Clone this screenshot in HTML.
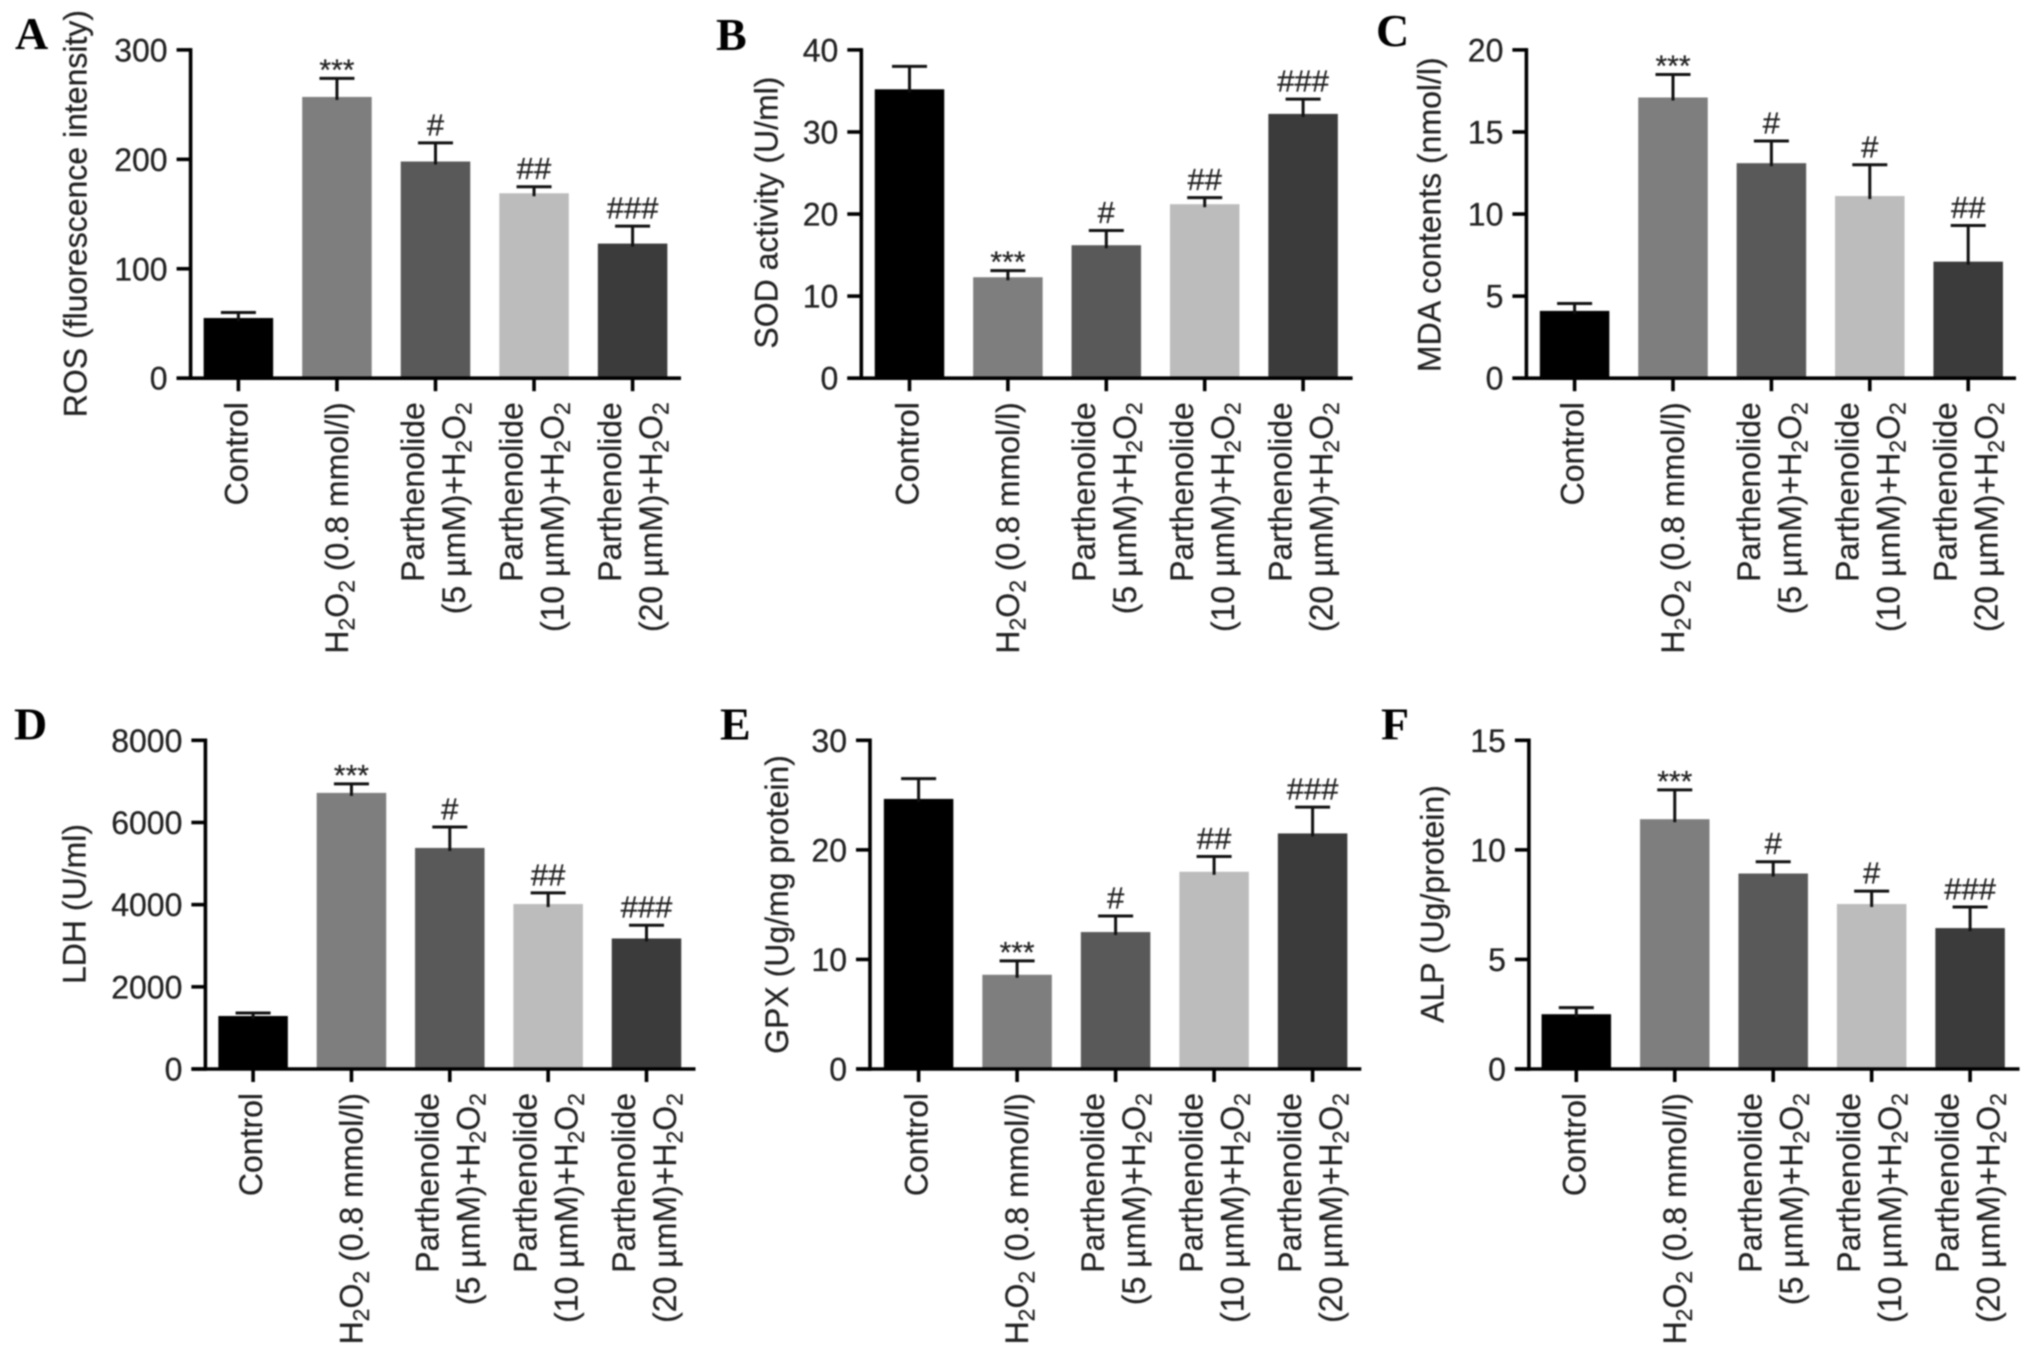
<!DOCTYPE html>
<html lang="en">
<head>
<meta charset="utf-8">
<title>Parthenolide oxidative stress bar charts</title>
<style>
html,body{margin:0;padding:0;background:#fff;}
body{width:2032px;height:1356px;overflow:hidden;}
svg{display:block;filter:blur(.7px);}
text{font-family:"Liberation Sans",Arial,sans-serif;fill:#222;stroke:#222;stroke-width:.25px;}
.letter{font-family:"Liberation Serif","Times New Roman",serif;font-weight:bold;font-size:46px;fill:#000;stroke:none;}
</style>
</head>
<body>
<svg id="figure" xmlns="http://www.w3.org/2000/svg" width="2032" height="1356" viewBox="0 0 2032 1356">
<rect x="0" y="0" width="2032" height="1356" fill="#fff"/>
</svg>
<script>
const categoryLines = [
  ["Control"],
  ["H2O2 (0.8 mmol/l)"],
  ["Parthenolide", "(5 µmM)+H2O2"],
  ["Parthenolide", "(10 µmM)+H2O2"],
  ["Parthenolide", "(20 µmM)+H2O2"]
];
const barColors = ["#000000", "#7e7e7e", "#595959", "#bcbcbc", "#3b3b3b"];

const rosValues = [55, 257, 198, 169, 123];
const rosErrorTops = [60, 274, 215, 175, 139];
const rosMarks = ["", "***", "#", "##", "###"];
const rosTicks = [0, 100, 200, 300];

const sodValues = [35.2, 12.3, 16.2, 21.2, 32.2];
const sodErrorTops = [38, 13.1, 18, 22, 34];
const sodMarks = ["", "***", "#", "##", "###"];
const sodTicks = [0, 10, 20, 30, 40];

const mdaValues = [4.1, 17.1, 13.1, 11.1, 7.1];
const mdaErrorTops = [4.55, 18.5, 14.45, 13, 9.3];
const mdaMarks = ["", "***", "#", "#", "##"];
const mdaTicks = [0, 5, 10, 15, 20];

const ldhValues = [1290, 6720, 5380, 4015, 3177];
const ldhErrorTops = [1363, 6940, 5890, 4287, 3500];
const ldhMarks = ["", "***", "#", "##", "###"];
const ldhTicks = [0, 2000, 4000, 6000, 8000];

const gpxValues = [24.65, 8.6, 12.5, 18, 21.5];
const gpxErrorTops = [26.5, 9.87, 13.96, 19.4, 23.9];
const gpxMarks = ["", "***", "#", "##", "###"];
const gpxTicks = [0, 10, 20, 30];

const alpValues = [2.5, 11.4, 8.92, 7.53, 6.43];
const alpErrorTops = [2.8, 12.74, 9.46, 8.12, 7.39];
const alpMarks = ["", "***", "#", "#", "###"];
const alpTicks = [0, 5, 10, 15];

const SVG_NS = "http://www.w3.org/2000/svg";
const figure = document.getElementById("figure");

function make(parent, tag, attrs) {
  const el = document.createElementNS(SVG_NS, tag);
  for (const key in attrs) el.setAttribute(key, attrs[key]);
  parent.appendChild(el);
  return el;
}

function fillFormula(textEl, str, size) {
  const parts = str.split(/(H2O2)/);
  let pendingRise = 0;
  parts.forEach(function (part) {
    if (part === "H2O2") {
      [["H", 0], ["2", 1], ["O", 0], ["2", 1]].forEach(function (seg) {
        const sp = document.createElementNS(SVG_NS, "tspan");
        sp.textContent = seg[0];
        const shift = size * 0.2;
        if (seg[1]) {
          sp.setAttribute("font-size", size * 0.72);
          sp.setAttribute("dy", shift);
          pendingRise = -shift;
        } else if (pendingRise) {
          sp.setAttribute("dy", pendingRise);
          pendingRise = 0;
        }
        textEl.appendChild(sp);
      });
    } else if (part) {
      const sp = document.createElementNS(SVG_NS, "tspan");
      sp.textContent = part;
      if (pendingRise) {
        sp.setAttribute("dy", pendingRise);
        pendingRise = 0;
      }
      textEl.appendChild(sp);
    }
  });
}

const FONT = 32;
const BAR_W = 69.5;
const CAP_W = 35;
const STROKE = 3.6;
const X_LABEL_TOP_OFFSET = 24;

function drawPanel(p) {
  const g = make(figure, "g", {});
  
  

  const yMax = p.ticks[p.ticks.length - 1];
  const yScale = function (v) { return p.zero - (v / yMax) * (p.zero - p.top); };
  const xScale = function (i) { return p.firstX + i * p.stepX; };

  const letter = make(g, "text", { x: p.letterX, y: p.letterY, "class": "letter" });
  letter.textContent = p.letter;
  
  

  p.values.forEach(function (v, i) {
    const cx = xScale(i);
    const yv = yScale(v);
    const bar = make(g, "rect", { x: cx - BAR_W / 2, y: yv, width: BAR_W, height: p.zero - yv, fill: barColors[i] });
    
    

    const ye = yScale(p.errorTops[i]);
    const stem = make(g, "line", { x1: cx, x2: cx, y1: ye, y2: yv + 3, stroke: "#111", "stroke-width": 3 });
    
    
    const cap = make(g, "line", { x1: cx - CAP_W / 2, x2: cx + CAP_W / 2, y1: ye, y2: ye, stroke: "#111", "stroke-width": 3 });
    
    

    const mark = p.marks[i];
    if (mark) {
      const isStar = mark.charAt(0) === "*";
      const sig = make(g, "text", {
        x: cx,
        y: isStar ? ye + 1.5 : ye - 7.5,
        "text-anchor": "middle",
        "font-size": isStar ? 30 : 31
      });
      sig.textContent = mark;
      
      
    }

    const lines = categoryLines[i];
    lines.forEach(function (line, li) {
      let off;
      if (lines.length === 2) off = li === 0 ? -11.5 : 29.5;
      else off = line.indexOf("H2O2") >= 0 ? 11 : 9;
      const t = make(g, "text", {
        transform: "translate(" + (cx + off) + "," + (p.zero + X_LABEL_TOP_OFFSET) + ") rotate(-90)",
        "text-anchor": "end",
        "font-size": FONT
      });
      fillFormula(t, line, FONT);
      
      
    });

    const xt = make(g, "line", { x1: cx, x2: cx, y1: p.zero, y2: p.zero + 13, stroke: "#000", "stroke-width": STROKE });
    
    
  });

  p.ticks.forEach(function (tv) {
    const y = yScale(tv);
    const yt = make(g, "line", { x1: p.axisX - 14, x2: p.axisX, y1: y, y2: y, stroke: "#000", "stroke-width": STROKE });
    
    
    const lab = make(g, "text", { x: p.axisX - 23, y: y + 11.5, "text-anchor": "end", "font-size": FONT });
    lab.textContent = String(tv);
    
    
  });

  const yAxis = make(g, "line", { x1: p.axisX, x2: p.axisX, y1: p.top - STROKE / 2, y2: p.zero + STROKE / 2, stroke: "#000", "stroke-width": STROKE });
  
  
  const xAxis = make(g, "line", { x1: p.axisX - 14, x2: p.xEnd, y1: p.zero, y2: p.zero, stroke: "#000", "stroke-width": STROKE });
  
  

  const title = make(g, "text", {
    transform: "translate(" + p.titleX + "," + p.titleY + ") rotate(-90)",
    "text-anchor": "middle",
    "font-size": FONT
  });
  title.textContent = p.title;
  
  
}

const TOP_ROW = { top: 49.9, zero: 378.2 };
const BOTTOM_ROW = { top: 740.3, zero: 1069 };

[
  Object.assign({ key: "ros", letter: "A", title: "ROS (fluorescence intensity)", values: rosValues, errorTops: rosErrorTops, marks: rosMarks, ticks: rosTicks,
    axisX: 190.6, xEnd: 681, firstX: 238.4, stepX: 98.55, titleX: 86.5, titleY: 213.6, letterX: 15, letterY: 49 }, TOP_ROW),
  Object.assign({ key: "sod", letter: "B", title: "SOD activity (U/ml)", values: sodValues, errorTops: sodErrorTops, marks: sodMarks, ticks: sodTicks,
    axisX: 861.3, xEnd: 1352.6, firstX: 909.5, stepX: 98.4, titleX: 777.5, titleY: 212.6, letterX: 716, letterY: 50 }, TOP_ROW),
  Object.assign({ key: "mda", letter: "C", title: "MDA contents (nmol/l)", values: mdaValues, errorTops: mdaErrorTops, marks: mdaMarks, ticks: mdaTicks,
    axisX: 1526.4, xEnd: 2016, firstX: 1574.6, stepX: 98.4, titleX: 1440.5, titleY: 214.7, letterX: 1376, letterY: 46 }, TOP_ROW),
  Object.assign({ key: "ldh", letter: "D", title: "LDH (U/ml)", values: ldhValues, errorTops: ldhErrorTops, marks: ldhMarks, ticks: ldhTicks,
    axisX: 205.4, xEnd: 695.5, firstX: 253.1, stepX: 98.35, titleX: 85.5, titleY: 904, letterX: 14, letterY: 739.5 }, BOTTOM_ROW),
  Object.assign({ key: "gpx", letter: "E", title: "GPX (Ug/mg protein)", values: gpxValues, errorTops: gpxErrorTops, marks: gpxMarks, ticks: gpxTicks,
    axisX: 870, xEnd: 1361.3, firstX: 918.6, stepX: 98.5, titleX: 788, titleY: 904.5, letterX: 720, letterY: 739.5 }, BOTTOM_ROW),
  Object.assign({ key: "alp", letter: "F", title: "ALP (Ug/protein)", values: alpValues, errorTops: alpErrorTops, marks: alpMarks, ticks: alpTicks,
    axisX: 1528.9, xEnd: 2019.5, firstX: 1576.3, stepX: 98.45, titleX: 1443.5, titleY: 904, letterX: 1381, letterY: 739.5 }, BOTTOM_ROW)
].forEach(drawPanel);
</script>
</body>
</html>
